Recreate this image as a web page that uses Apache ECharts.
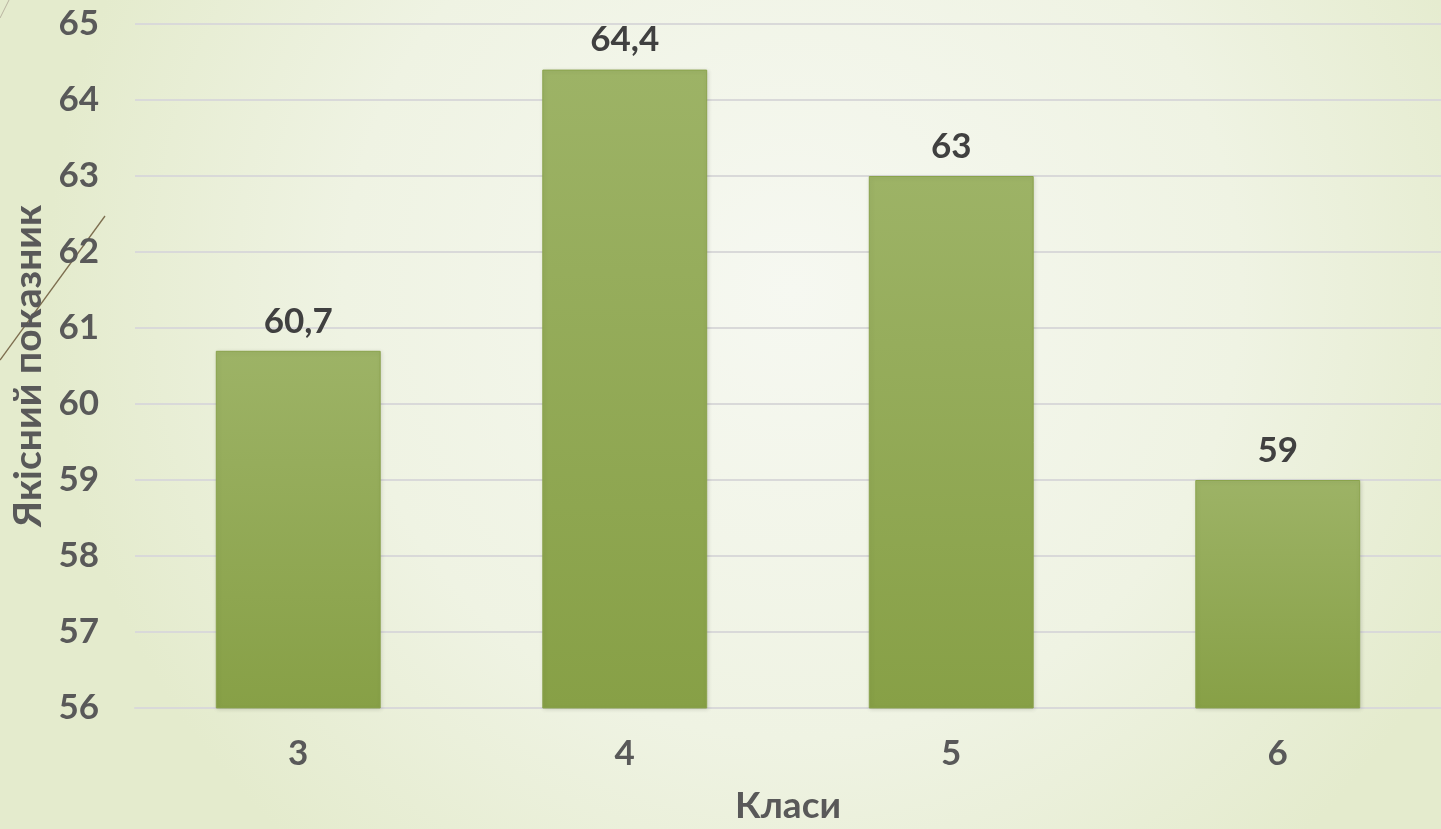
<!DOCTYPE html>
<html>
<head>
<meta charset="utf-8">
<script src="https://cdn.jsdelivr.net/npm/echarts@6/dist/echarts.min.js"></script>
<style>
html,body{margin:0;padding:0;}
#chart{width:1441px;height:829px;}
</style>
</head>
<body>
<div id="chart"></div>
<script>
const categories = ['3', '4', '5', '6'];
const values = [60.7, 64.4, 63, 59];
const yAxisName = 'Якісний показник';
const xAxisName = 'Класи';

const FONT = 'Lato';
const chart = echarts.init(document.getElementById('chart'));
chart.setOption({
  backgroundColor: {
    type: 'radial', x: 0.55, y: 0.35, r: 0.9,
    colorStops: [
      { offset: 0, color: '#f6f8f1' },
      { offset: 0.6, color: '#eff3e3' },
      { offset: 1, color: '#e4ebcd' }
    ]
  },
  animation: false,
  graphic: [
    { type: 'line', shape: { x1: 0, y1: 360, x2: 105, y2: 216 }, style: { stroke: '#7d6e4f', lineWidth: 1.3 } },
    { type: 'line', shape: { x1: 0, y1: 18, x2: 9, y2: 0 }, style: { stroke: '#b9b4a0', lineWidth: 1 } }
  ],
  grid: { left: 135, right: 0, top: 24, bottom: 121, containLabel: false, outerBoundsMode: 'none' },
  xAxis: {
    type: 'category',
    data: categories,
    name: xAxisName,
    nameLocation: 'middle',
    nameGap: 80,
    nameTextStyle: { color: '#595959', fontSize: 37, fontWeight: 'bold', fontFamily: FONT },
    axisLine: { show: true, lineStyle: { color: '#d9d9d9', width: 2 } },
    axisTick: { show: false },
    axisLabel: { color: '#595959', fontSize: 35, fontWeight: 'bold', fontFamily: FONT, margin: 28 }
  },
  yAxis: {
    type: 'value',
    min: 56, max: 65, interval: 1,
    name: yAxisName,
    nameLocation: 'middle',
    nameGap: 86,
    nameTextStyle: { color: '#595959', fontSize: 39, fontWeight: 'bold', fontFamily: FONT },
    axisLine: { show: false },
    axisTick: { show: false },
    axisLabel: { color: '#595959', fontSize: 35, fontWeight: 'bold', fontFamily: FONT, margin: 36 },
    splitLine: { lineStyle: { color: '#d9d9d9', width: 2 } }
  },
  series: [{
    type: 'bar',
    data: values,
    barWidth: '50.5%',
    itemStyle: {
      color: {
        type: 'linear', x: 0, y: 0, x2: 0, y2: 1,
        colorStops: [
          { offset: 0, color: '#9db366' },
          { offset: 1, color: '#87a046' }
        ]
      },
      borderColor: '#8aa34c',
      borderWidth: 1,
      shadowColor: 'rgba(0,0,0,0.12)',
      shadowBlur: 4,
      shadowOffsetX: 1,
      shadowOffsetY: 1
    },
    label: {
      show: true,
      position: 'top',
      distance: 12,
      color: '#404040',
      fontSize: 35,
      fontWeight: 'bold',
      fontFamily: FONT,
      formatter: p => String(p.value).replace('.', ',')
    }
  }]
});
</script>
</body>
</html>
